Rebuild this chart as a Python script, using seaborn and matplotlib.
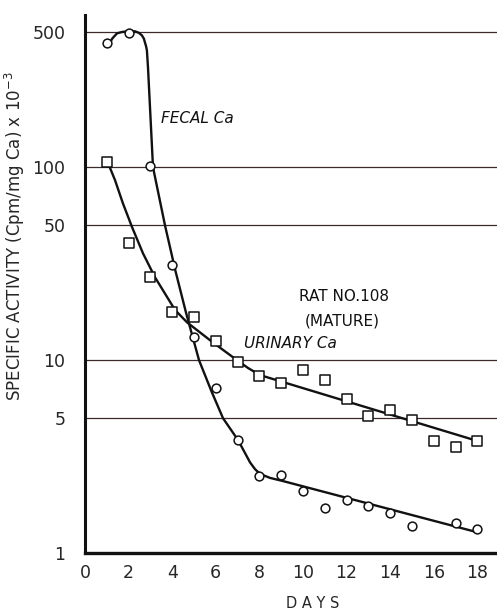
import numpy as np
import pandas as pd
import matplotlib
matplotlib.use("Agg")
import matplotlib.pyplot as plt
import seaborn as sns

# Observed points
fecal_days = [1, 2, 3, 4, 5, 6, 7, 8, 9, 10, 11, 12, 13, 14, 15, 17, 18]
fecal_vals = [440, 495, 102, 31, 13.2, 7.2, 3.85, 2.5, 2.55, 2.1, 1.71, 1.88, 1.75, 1.61, 1.38, 1.43, 1.33]

urinary_days = [1, 2, 3, 4, 5, 6, 7, 8, 9, 10, 11, 12, 13, 14, 15, 16, 17, 18]
urinary_vals = [106, 40.4, 26.9, 17.7, 16.7, 12.5, 9.8, 8.26, 7.6, 8.87, 7.88, 6.28, 5.13, 5.51, 4.89, 3.8, 3.54, 3.8]

# Hand-drawn fitted curves (vertices)
fecal_curve_days = [1.10, 1.25, 1.47, 1.70, 1.93, 2.12, 2.29, 2.47, 2.61, 2.70, 2.75, 2.80, 2.84, 2.89,
                    3.12, 3.67, 4.15, 4.63, 5.23, 5.80, 6.33, 7.02, 7.29, 7.57, 7.80, 8.03, 8.49, 9.08, 18.0]
fecal_curve_vals = [430, 465, 495, 503, 507, 508, 507, 498, 483, 465, 444, 425, 404, 330,
                    100, 50, 29, 17.7, 10, 6.9, 5, 3.85, 3.38, 2.95, 2.72, 2.57, 2.45, 2.36, 1.28]

urinary_curve_days = [1.06, 1.38, 1.74, 2.16, 2.66, 3.21, 4.13, 4.68, 5.73, 6.33, 6.97, 7.48, 8.03, 18.03]
urinary_curve_vals = [105, 85.6, 65, 48.9, 35.8, 26.9, 18.2, 15.7, 12.7, 11.3, 10.0, 9.1, 8.36, 3.8]

x_ticks = [0, 2, 4, 6, 8, 10, 12, 14, 16, 18]
y_ticks = [1, 5, 10, 50, 100, 500]
y_ticklabels = ["1", "5", "10", "50", "100", "500"]
grid_levels = [5, 10, 50, 100, 500]

sns.set_theme(style="white")
plt.rcParams['font.family'] = ['DejaVu Sans']

fig = plt.figure(figsize=(4.97, 6.11), dpi=100)
ax = fig.add_axes([0.171, 0.095, 0.829, 0.880])

ax.set_yscale("log")
ax.set_xlim(0, 18.9)
ax.set_ylim(1, 614)

for g in grid_levels:
    ax.axhline(g, color="#3a2a2a", lw=0.9, zorder=1)

fc = pd.DataFrame({"day": fecal_curve_days, "val": fecal_curve_vals})
uc = pd.DataFrame({"day": urinary_curve_days, "val": urinary_curve_vals})
sns.lineplot(data=fc, x="day", y="val", sort=False, color="#111111", lw=1.7, ax=ax, zorder=3)
sns.lineplot(data=uc, x="day", y="val", sort=False, color="#111111", lw=1.7, ax=ax, zorder=3)

fp = pd.DataFrame({"day": fecal_days, "val": fecal_vals})
up = pd.DataFrame({"day": urinary_days, "val": urinary_vals})
sns.scatterplot(data=fp, x="day", y="val", marker="o", s=40, facecolor="white",
                edgecolor="#111111", linewidth=1.1, ax=ax, zorder=4)
sns.scatterplot(data=up, x="day", y="val", marker="s", s=48, facecolor="white",
                edgecolor="#111111", linewidth=1.1, ax=ax, zorder=4)

ax.set_xticks(x_ticks)
ax.set_xticklabels([str(t) for t in x_ticks], fontsize=12.5)
ax.set_yticks(y_ticks)
ax.set_yticklabels(y_ticklabels, fontsize=12.5)
ax.yaxis.set_minor_locator(matplotlib.ticker.NullLocator())
ax.tick_params(axis="x", direction="in", length=6, width=1.2, color="#111111", pad=8)
ax.tick_params(axis="y", length=0, pad=14)

for s in ["top", "right"]:
    ax.spines[s].set_visible(False)
ax.spines["left"].set_linewidth(2.2)
ax.spines["bottom"].set_linewidth(2.4)
ax.spines["left"].set_color("#111111")
ax.spines["bottom"].set_color("#111111")

ax.set_xlabel("D A Y S", fontsize=10.5)
ax.xaxis.set_label_coords(0.553, -0.080)
ax.set_ylabel("SPECIFIC ACTIVITY (Cpm/mg Ca) x 10$^{-3}$", fontsize=12)
ax.yaxis.set_label_coords(-0.140, 0.59)

ax.text(3.5, 180, "FECAL Ca", fontsize=11, style="italic", ha="left", va="center", color="#111111")
ax.text(7.3, 12.2, "URINARY Ca", fontsize=11, style="italic", ha="left", va="center", color="#111111")
ax.text(11.9, 21.5, "RAT NO.108", fontsize=11, ha="center", va="center", color="#111111")
ax.text(11.8, 16.0, "(MATURE)", fontsize=11, ha="center", va="center", color="#111111")

fig.savefig("out.png", dpi=100)
